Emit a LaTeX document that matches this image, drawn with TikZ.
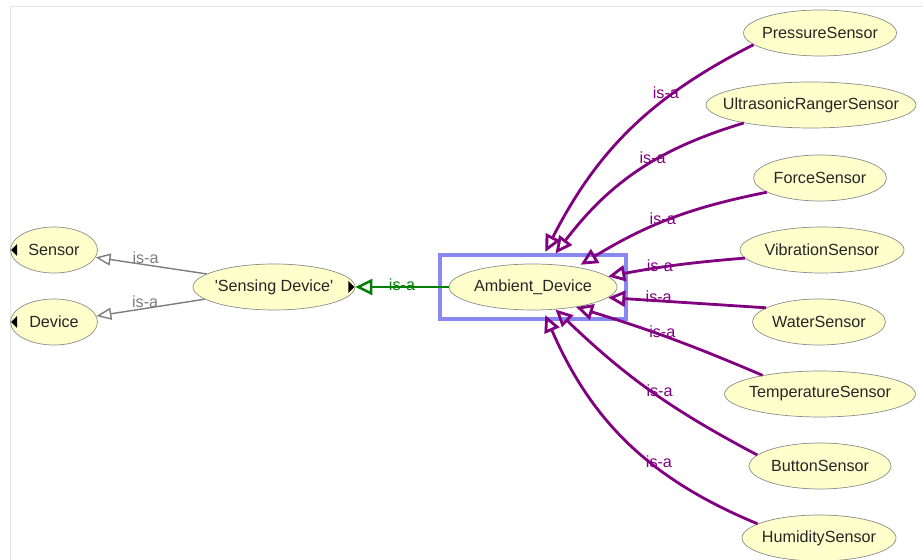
\documentclass[tikz,border=0pt]{standalone}
\usepackage{fontspec}
\setmainfont{Liberation Sans}
\usetikzlibrary{shapes.geometric,arrows.meta,fit}
\definecolor{conceptfill}{RGB}{255,255,204}
\definecolor{conceptline}{RGB}{140,140,140}
\definecolor{isapurple}{RGB}{128,0,128}
\definecolor{isagray}{RGB}{125,125,125}
\definecolor{isagreen}{RGB}{0,128,0}
\definecolor{selblue}{RGB}{136,136,240}

\begin{document}
\begin{tikzpicture}[x=0.02cm,y=-0.02cm]
  \tikzset{concept/.style = {ellipse,draw=conceptline,fill=conceptfill,minimum height=0.92cm,inner xsep=-0.5cm,inner ysep=0pt,text=black!85,font=\fontsize{9.2}{11}\selectfont}}
  \tikzset{isa/.style = {-{Triangle[open,length=0.34cm,width=0.32cm]}, line width=1.6pt, draw=isapurple}}
  \tikzset{isalabel/.style = {text=isapurple,inner sep=1pt,font=\fontsize{9.2}{11}\selectfont}}

  \useasboundingbox (0,0) rectangle (923,560);
  \draw[black!10] (10,560) -- (10,6) -- (923,6);

\node[concept,minimum width=1.74cm] (sensor)  at (54,250) {Sensor};
\node[concept,minimum width=1.74cm] (device)  at (54,322) {Device};
\node[concept,minimum width=3.24cm] (sensing)  at (274,287) {\textquotesingle Sensing Device\textquotesingle};
\node[concept,minimum width=3.36cm] (ambient)  at (533,287) {Ambient\_Device};

\node[concept,minimum width=3.06cm] (pressure)  at (820,33) {PressureSensor};
\node[concept,minimum width=4.2cm] (ultrasonic)  at (811,105) {UltrasonicRangerSensor};
\node[concept,minimum width=2.66cm] (force)  at (820,178) {ForceSensor};
\node[concept,minimum width=3.28cm] (vibration)  at (822,250) {VibrationSensor};
\node[concept,minimum width=2.66cm] (water)  at (819,322) {WaterSensor};
\node[concept,minimum width=3.82cm] (temperature)  at (820,394) {TemperatureSensor};
\node[concept,minimum width=2.84cm] (button)  at (820,466) {ButtonSensor};
\node[concept,minimum width=3.08cm] (humidity)  at (819,538) {HumiditySensor};

  \fill[black,shift={(sensor.west)}] (1,0) -- (7,-6) -- (7,6) -- cycle;
  \fill[black,shift={(device.west)}] (1,0) -- (7,-6) -- (7,6) -- cycle;
  \fill[black,shift={(sensing.east)}] (-1,0) -- (-7,-6) -- (-7,6) -- cycle;

  \node[draw=selblue,line width=2.2pt,inner xsep=0.17cm,inner ysep=0.18cm,fit=(ambient.west)(ambient.east)(ambient.north)(ambient.south)] (selection) {};

    \path(sensing.169) edge[isa,draw=isagray,line width=0.8pt,-{Triangle[open,length=0.3cm,width=0.24cm]}] node [pos=0.55,above=-1pt,isalabel,text=isagray]{is-a} (sensor.-10);
    \path(sensing.190) edge[isa,draw=isagray,line width=0.8pt,-{Triangle[open,length=0.3cm,width=0.24cm]}] node [pos=0.55,above=-1pt,isalabel,text=isagray]{is-a} (device.8);
    \path(ambient.west) edge[isa,draw=isagreen,line width=1.4pt] node [pos=0.5,above=-4pt,isalabel,text=isagreen]{is-a} (sensing.east);

      \path(pressure.190) edge[isa, bend right=18] node [pos=0.3,left=-5pt,isalabel]{is-a} ([shift={(0,-12)}]ambient.62);
      \path(ultrasonic.195) edge[isa, bend right=18] node [pos=0.38,left=-5pt,isalabel]{is-a} ([shift={(0,-11)}]ambient.45);
      \path(force.195) edge[isa, bend right=10] node [pos=0.5,left=-5pt,isalabel]{is-a} ([shift={(0,-3)}]ambient.22);
      \path(vibration.186) edge[isa, bend right=3] node [pos=0.63,above=-4pt,isalabel]{is-a} (ambient.8);
        \path(water.165) edge[isa] node [pos=0.68,above=-3pt,isalabel]{is-a} (ambient.-8);
        \path(temperature.162) edge[isa, bend right=3] node [pos=0.6,right=-4pt,isalabel]{is-a} (ambient.-25);
        \path(button.170) edge[isa, bend left=8] node [pos=0.5,right=-4pt,isalabel]{is-a} (ambient.-45);
        \path(humidity.167) edge[isa, bend left=22] node [pos=0.4,right=-4pt,isalabel]{is-a} ([shift={(0,5)}]ambient.-62);

\end{tikzpicture}
\end{document}
